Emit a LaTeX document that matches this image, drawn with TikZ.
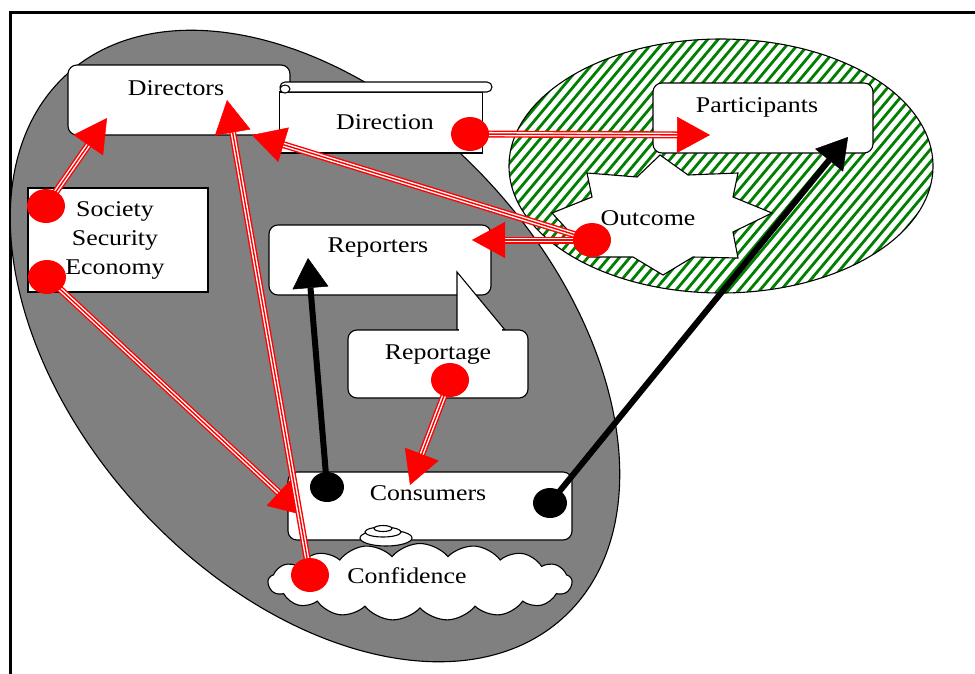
\documentclass[tikz,border=0pt]{standalone}
\usepackage{fontspec}
\setmainfont[FakeStretch=1.15]{Liberation Serif}
\usetikzlibrary{arrows.meta,shapes.symbols,shapes.geometric}

\definecolor{shade}{HTML}{808080}
\definecolor{hatch}{HTML}{008000}

\tikzset{
  outline/.style={draw=black, line width=1.1pt},
  box/.style={outline, fill=white, rounded corners=9pt, inner sep=0pt},
  plainbox/.style={outline, fill=white, inner sep=0pt},
  lbl/.style={inner sep=0pt, font=\fontsize{22.5}{29}\selectfont},
  reddot/.style={ellipse, fill=red, minimum width=38pt, minimum height=34pt, inner sep=0pt},
  blackdot/.style={ellipse, fill=black, minimum width=34pt, minimum height=30pt, inner sep=0pt},
  redouter/.style={red, line width=7pt, shorten >=20pt},
  redgap/.style={white, line width=4.2pt, shorten >=20pt},
  redcore/.style={red, line width=1.4pt, -{Triangle[length=33pt,width=36pt,line width=0.5pt]}},
  blacklink/.style={black, line width=6pt, -{Triangle[length=30pt,width=36pt,line width=0.5pt]}},
}
% a red connector: three thin parallel strokes ending in a large filled head
\newcommand\redlink[2]{%
  \draw[redouter] (#1) -- (#2);
  \draw[redgap] (#1) -- (#2);
  \draw[redcore] (#1) -- (#2);}

\begin{document}
\begin{tikzpicture}[x=1pt, y=-1pt]
\useasboundingbox (0,0) rectangle (975,673);
\clip (0,0) rectangle (975,673);
\fill[white] (0,0) rectangle (975,673);
\draw[line width=3pt] (10,12) rectangle (1000,700);

% grey domain
\draw[outline, fill=shade, rotate around={-47.5:(315,346)}]
  (315,346) ellipse [x radius=368, y radius=239];

% hatched domain
\begin{scope}
  \clip (721,166) ellipse [x radius=212, y radius=127];
  \fill[white] (721,166) ellipse [x radius=212, y radius=127];
  \foreach \k in {0,...,76} {
    \draw[hatch, line width=2.8pt] ({210+10.5*\k},345) -- ({510+10.5*\k},-13);
  }
\end{scope}
\draw[outline] (721,166) ellipse [x radius=212, y radius=127];

% boxes
\node[box, minimum width=222pt, minimum height=70pt] (directors) at (179,100) {};
\node[plainbox, minimum width=203pt, minimum height=61pt] (direction) at (381,122.5) {};
\draw[outline, fill=white, rounded corners=5pt] (280,82) rectangle (492,92);
\draw[outline, fill=white] (285,89) ellipse [x radius=5, y radius=4];
\node[plainbox, minimum width=180pt, minimum height=104pt] (society) at (118,240) {};
\node[box, minimum width=222pt, minimum height=70pt] (reporters) at (380,260) {};
\draw[outline, fill=white, line join=miter] (457,272) -- (505,330) -- (457,330) -- cycle;
\node[box, minimum width=180pt, minimum height=68pt] (reportage) at (438,364) {};
\draw[white, line width=2.5pt] (459,330) -- (502,330);
\node[box, minimum width=220pt, minimum height=70pt] (participants) at (763,118) {};
\draw[outline, fill=white] (660,155) -- (688,175) -- (738,173) -- (733,197) -- (772,213)
  -- (733,232) -- (738,258) -- (693,257) -- (663,275) -- (633,257) -- (590,257)
  -- (575,238) -- (552,213) -- (592,197) -- (587,173) -- (637,177) -- cycle;
\coordinate (outcome) at (660,215);
\node[box, minimum width=284pt, minimum height=68pt] (consumers) at (430,506) {};
\node[cloud, outline, fill=white, cloud puffs=17, cloud puff arc=100, aspect=4,
      minimum width=304pt, minimum height=77pt, inner sep=0pt] (confidence) at (420,582) {};
\draw[outline, fill=white] (386,538) ellipse [x radius=26, y radius=8];
\draw[outline, fill=white] (383,532) ellipse [x radius=18, y radius=5];
\draw[outline, fill=white] (383,528.5) ellipse [x radius=9, y radius=3];

% labels
\node[lbl] (tDirectors) at (176,88) {Directors};
\node[lbl] (tDirection) at (385,122) {Direction};
\node[lbl, align=center] (tSociety) at (115,240) {Society\\Security\\Economy};
\node[lbl] (tReporters) at (378,248) {Reporters};
\node[lbl] (tReportage) at (438,355) {Reportage};
\node[lbl] (tParticipants) at (757,107) {Participants};
\node[lbl] (tOutcome) at (648,218) {Outcome};
\node[lbl] (tConsumers) at (428,493) {Consumers};
\node[lbl] (tConfidence) at (407,576) {Confidence};

% connector ends
\coordinate (socA) at (46,206);
\coordinate (socB) at (47,277);
\coordinate (dirOut) at (470,134);
\coordinate (outOut) at (592,240);
\coordinate (repOut) at (450,380);
\coordinate (confOut) at (310,575);
\coordinate (consA) at (327,487);
\coordinate (consB) at (550,503);
\coordinate (directorsInA) at (107,118);
\coordinate (directorsInB) at (227,100);
\coordinate (directionIn) at (252,135);
\coordinate (reportersInA) at (472,240);
\coordinate (reportersInB) at (308,258);
\coordinate (participantsInA) at (710,135);
\coordinate (participantsInB) at (848,137);
\coordinate (consumersInA) at (303,515);
\coordinate (consumersInB) at (410,485);

% red influences
\redlink{socA}{directorsInA}
\redlink{socB}{consumersInA}
\redlink{confOut}{directorsInB}
\redlink{outOut}{directionIn}
\redlink{outOut}{reportersInA}
\redlink{dirOut}{participantsInA}
\redlink{repOut}{consumersInB}

% black influences
\draw[blacklink] (consA) -- (reportersInB);
\draw[blacklink] (consB) -- (participantsInB);

% sources
\node[reddot] (dSocA) at (socA) {};
\node[reddot] (dSocB) at (socB) {};
\node[reddot] (dDir) at (dirOut) {};
\node[reddot] (dOut) at (outOut) {};
\node[reddot] (dRep) at (repOut) {};
\node[reddot] (dConf) at (confOut) {};
\node[blackdot] (dConsA) at (consA) {};
\node[blackdot] (dConsB) at (consB) {};
\end{tikzpicture}
\end{document}
